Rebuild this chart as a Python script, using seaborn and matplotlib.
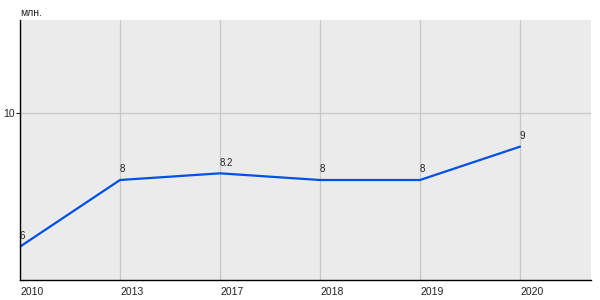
import matplotlib
matplotlib.use("Agg")
import matplotlib.pyplot as plt
import seaborn as sns
import pandas as pd

years = ["2010", "2013", "2017", "2018", "2019", "2020"]
values = [6.0, 8.0, 8.2, 8.0, 8.0, 9.0]
labels = ["6", "8", "8.2", "8", "8", "9"]
y_ticks = [10]
unit = "млн."

sns.set_theme(style="white")
plt.rcParams['font.family'] = ['Liberation Sans', 'DejaVu Sans']

df = pd.DataFrame({"year": years, "value": values, "idx": range(len(years))})

fig = plt.figure(figsize=(6, 3), dpi=100)
ax = fig.add_axes([20/600, 20/300, 571/600, 260/300])
ax.set_facecolor("#ebebeb")

sns.lineplot(data=df, x="idx", y="value", ax=ax, color="#0050e6", linewidth=1.6)

for i, (v, lab) in enumerate(zip(values, labels)):
    ax.annotate(lab, (i, v), xytext=(-0.5, 4), textcoords="offset points",
                fontsize=7, ha="left", va="bottom", color="#222222")

ax.set_xlim(0, 5.71)
ax.set_ylim(5.0, 12.8)
ax.set_xticks(range(len(years)))
ax.set_xticklabels(years, ha="left")
ax.set_yticks(y_ticks)
ax.set_yticklabels([str(t) for t in y_ticks])
ax.grid(True, color="#c8c8c8", linewidth=0.9)
ax.set_axisbelow(True)
ax.set_xlabel("")
ax.set_ylabel("")

for s in ["top", "right"]:
    ax.spines[s].set_visible(False)
for s in ["left", "bottom"]:
    ax.spines[s].set_color("black")
    ax.spines[s].set_linewidth(1.0)

ax.tick_params(axis="x", length=0, labelsize=7.5, pad=5, colors="#222222")
ax.tick_params(axis="y", length=3, width=0.8, labelsize=7.5, pad=1, colors="#222222", left=True)

fig.text(20/600, 1 - 13/300, unit, fontsize=7.5, ha="left", va="center", color="#222222")

fig.savefig("out.png", dpi=100)
